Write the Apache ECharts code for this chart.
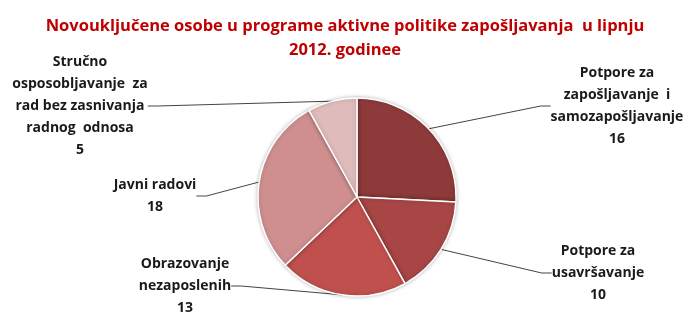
<!DOCTYPE html>
<html>
<head>
<meta charset="utf-8">
<script src="https://cdn.jsdelivr.net/npm/echarts@6/dist/echarts.min.js"></script>
<style>
  html, body { margin: 0; padding: 0; background: #fff; }
  #chart { width: 690px; height: 314px; }
</style>
</head>
<body>
<div id="chart"></div>
<script>
const categories = [
  'Potpore za\nzapošljavanje  i\nsamozapošljavanje',
  'Potpore za\nusavršavanje',
  'Obrazovanje\nnezaposlenih',
  'Javni radovi',
  'Stručno\nosposobljavanje  za\nrad bez zasnivanja\nradnog  odnosa'
];
const values = [16, 10, 13, 18, 5];
const colors = ['#8E3A3A', '#A84646', '#C0504D', '#CF8F8F', '#E0BBBB'];
// label centres (layout only)
const labelPos = [[617, 106], [598, 273], [185, 286], [155, 196], [80, 106]];

const chart = echarts.init(document.getElementById('chart'));

chart.setOption({
  animation: false,
  title: {
    text: 'Novouključene osobe u programe aktivne politike zapošljavanja  u lipnju\n2012. godinee',
    left: 'center',
    top: 9,
    textStyle: {
      color: '#C00000',
      fontFamily: 'Open Sans, sans-serif',
      fontWeight: 'bold',
      fontSize: 16.5,
      lineHeight: 24
    }
  },
  series: [{
    type: 'pie',
    center: [357, 197],
    radius: 99,
    startAngle: 90,
    clockwise: true,
    itemStyle: {
      borderColor: '#fff',
      borderWidth: 1.5,
      shadowBlur: 4,
      shadowColor: 'rgba(0,0,0,0.25)'
    },
    label: {
      show: true,
      formatter: p => p.name + '\n' + p.value,
      color: '#1a1a1a',
      fontFamily: 'Open Sans, sans-serif',
      fontWeight: 'bold',
      fontSize: 14,
      lineHeight: 22,
      align: 'center'
    },
    labelLine: {
      show: true,
      length: 10,
      length2: 10,
      lineStyle: { color: '#444', width: 1 }
    },
    labelLayout: p => ({
      x: labelPos[p.dataIndex][0],
      y: labelPos[p.dataIndex][1],
      align: 'center',
      verticalAlign: 'middle'
    }),
    data: categories.map((c, i) => ({
      name: c,
      value: values[i],
      itemStyle: { color: colors[i] }
    }))
  }]
});
</script>
</body>
</html>
